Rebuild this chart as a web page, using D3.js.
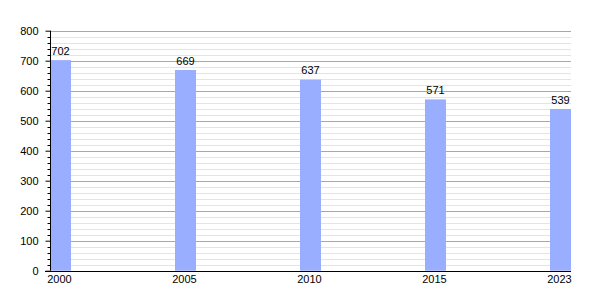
<!DOCTYPE html>
<html>
<head>
<meta charset="utf-8">
<script src="https://cdn.jsdelivr.net/npm/d3@7"></script>
<style>
    body { margin: 0; background: #fff; }
    text { font-family: "Liberation Sans", Arial, sans-serif; font-size: 11px; fill: #000; }
</style>
</head>
<body>
<div id="chart"></div>
<script>
const years = ["2000", "2005", "2010", "2015", "2023"];
const population = [702, 669, 637, 571, 539];
const yTicks = [0, 100, 200, 300, 400, 500, 600, 700, 800];

const width = 600, height = 300;
const plotLeft = 50, plotRight = 571, plotTop = 30.7, plotBottom = 270.7;

const svg = d3.select("#chart")
    .append("svg")
    .attr("width", width)
    .attr("height", height);

const x = d3.scaleBand()
    .domain(years)
    .range([plotLeft, plotRight])
    .paddingInner(0.832)
    .paddingOuter(0);

const y = d3.scaleLinear()
    .domain([0, 800])
    .range([plotBottom, plotTop]);

// minor grid every 20
const minor = d3.range(0, 801, 20).filter(v => v % 100 !== 0);
svg.append("g")
    .selectAll("line")
    .data(minor)
    .enter().append("line")
    .attr("x1", plotLeft).attr("x2", plotRight)
    .attr("y1", d => Math.round(y(d)) + 0.5)
    .attr("y2", d => Math.round(y(d)) + 0.5)
    .attr("stroke", "#e4e4e4");

svg.append("g")
    .selectAll("line")
    .data(yTicks.filter(d => d > 0))
    .enter().append("line")
    .attr("x1", plotLeft).attr("x2", plotRight)
    .attr("y1", d => Math.round(y(d)) + 0.5)
    .attr("y2", d => Math.round(y(d)) + 0.5)
    .attr("stroke", "#a8a8a8");

// bars
svg.append("g")
    .selectAll("rect")
    .data(population)
    .enter().append("rect")
    .attr("x", (d, i) => x(years[i]))
    .attr("width", x.bandwidth())
    .attr("y", d => y(d))
    .attr("height", d => y(0) - y(d))
    .attr("fill", "#99aeff");

// value labels
svg.append("g")
    .selectAll("text")
    .data(population)
    .enter().append("text")
    .attr("x", (d, i) => x(years[i]) + x.bandwidth() / 2)
    .attr("y", d => y(d) - 5.5)
    .attr("text-anchor", "middle")
    .text(d => d);

// y axis
const yAxis = svg.append("g")
    .attr("transform", `translate(${plotLeft + 0.5},0)`)
    .call(d3.axisLeft(y).tickValues(yTicks).tickSize(5).tickPadding(7));
yAxis.select(".domain").attr("d", `M0,${plotTop}V${plotBottom}`).attr("stroke", "#000");
yAxis.selectAll("text").style("font-size", "11px").attr("font-family", null);

svg.append("g")
    .attr("transform", `translate(${plotLeft + 0.5},0)`)
    .selectAll("line")
    .data(minor)
    .enter().append("line")
    .attr("x1", -3).attr("x2", 0)
    .attr("y1", d => Math.round(y(d)) + 0.5)
    .attr("y2", d => Math.round(y(d)) + 0.5)
    .attr("stroke", "#000");

// x axis line
svg.append("line")
    .attr("x1", 45).attr("x2", plotRight)
    .attr("y1", Math.round(plotBottom) + 0.5)
    .attr("y2", Math.round(plotBottom) + 0.5)
    .attr("stroke", "#000");

// year labels
svg.append("g")
    .selectAll("text")
    .data(years)
    .enter().append("text")
    .attr("x", d => x(d) + x.bandwidth() / 2 - 1)
    .attr("y", 283)
    .attr("text-anchor", "middle")
    .text(d => d);
</script>
</body>
</html>
